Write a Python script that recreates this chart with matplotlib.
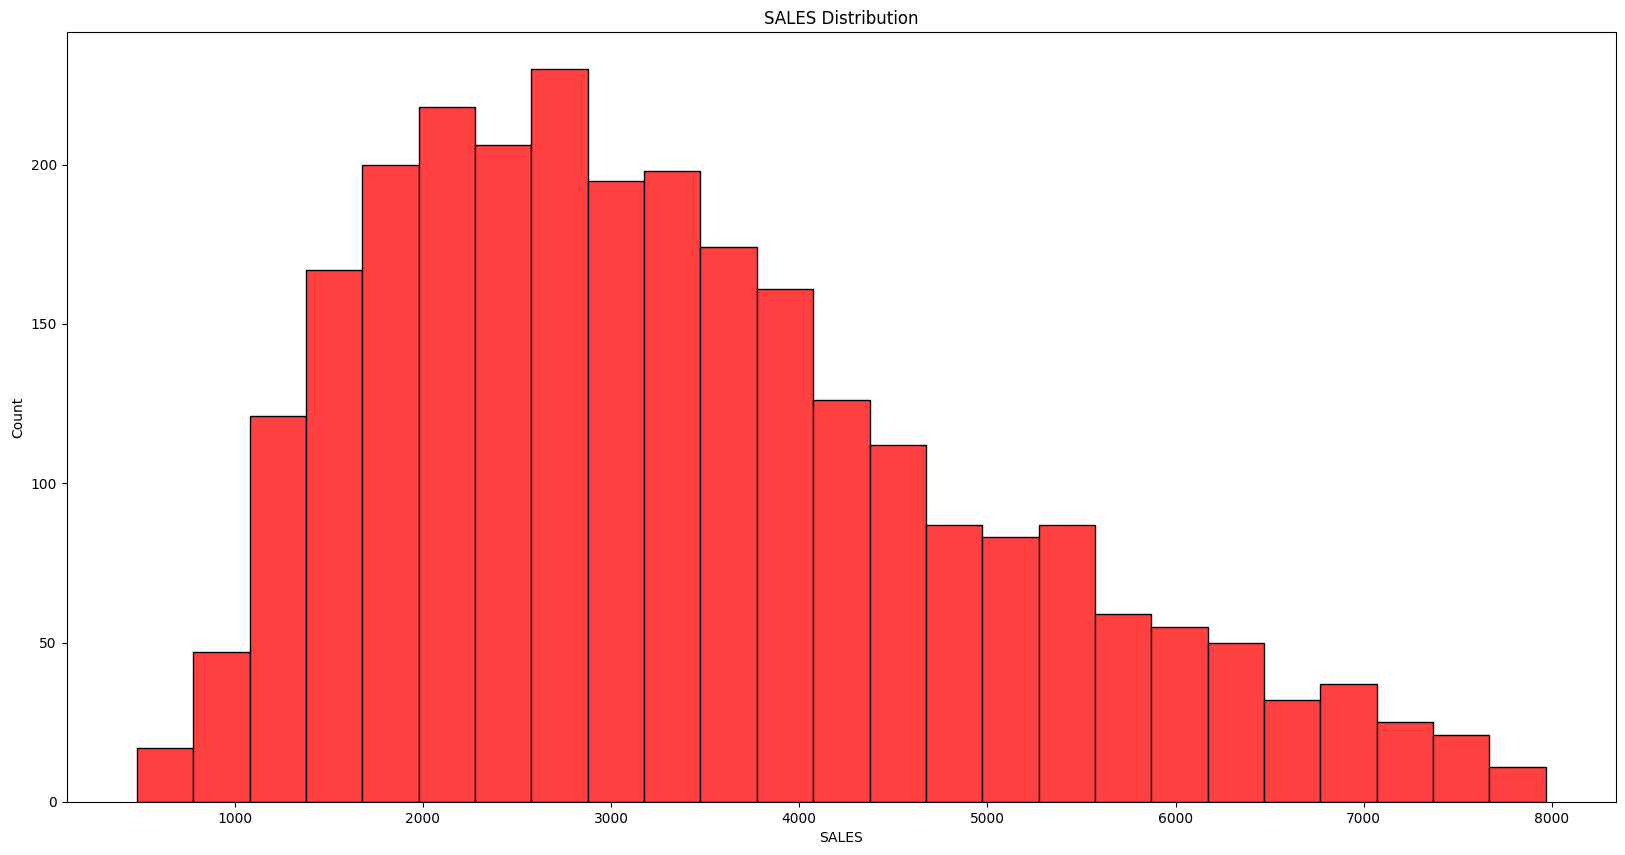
import numpy as np
import matplotlib.pyplot as plt

# histogram of SALES, 25 bins
sales_min = 482.13
sales_max = 7966.0
counts = [17, 47, 121, 167, 200, 218, 206, 230, 195, 198, 174, 161, 126,
          112, 87, 83, 87, 59, 55, 50, 32, 37, 25, 21, 11]

edges = np.linspace(sales_min, sales_max, len(counts) + 1)
centers = (edges[:-1] + edges[1:]) / 2

fig = plt.figure(figsize=(16.25, 8.55), dpi=100)
ax = fig.add_axes([0.041, 0.062, 0.9535, 0.9002])

ax.hist(centers, bins=edges, weights=counts, color=(1.0, 0.25, 0.25),
        edgecolor='black', linewidth=1)

ax.set_title('SALES Distribution')
ax.set_xlabel('SALES')
ax.set_ylabel('Count')

fig.savefig('out.png')
